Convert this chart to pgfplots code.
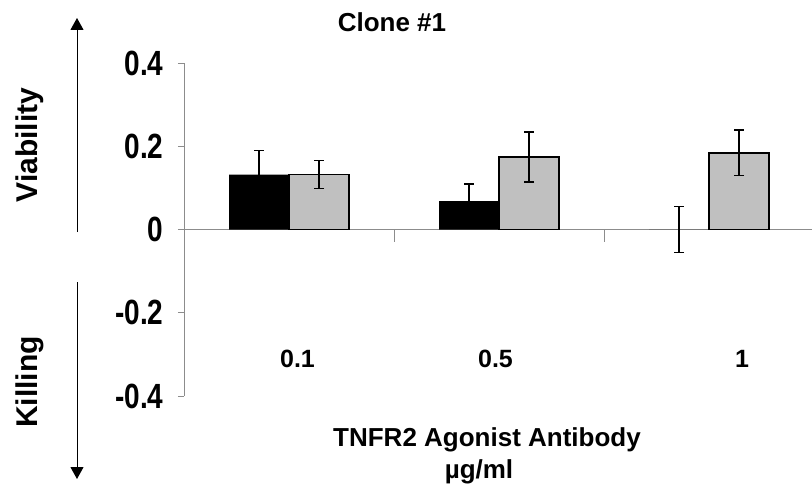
\documentclass[border=0pt]{standalone}
\usepackage{pgfplots}
\pgfplotsset{compat=1.18}
\usepackage{graphicx}
\usepackage{fontspec}
\setmainfont{Liberation Sans}
\usetikzlibrary{arrows.meta}
\definecolor{barGrey}{RGB}{192,192,192}
\definecolor{axGrey}{RGB}{140,140,140}
\begin{document}
\begin{tikzpicture}
\useasboundingbox (0,0) rectangle (812pt,491pt);
\begin{axis}[
  at={(184pt,95pt)}, anchor=south west,
  scale only axis, width=628pt, height=333pt,
  xmin=-0.5, xmax=2.49, ymin=-0.4, ymax=0.4,
  axis x line=middle, axis y line=left,
  axis line style={axGrey, line width=0.8pt, -},
  hide obscured x ticks=false, hide obscured y ticks=false,
  xtick={0.5,1.5}, xticklabels={},
  xtick align=outside,
  xtick style={axGrey, line width=0.8pt, /pgfplots/major tick length=12pt},
  ytick={-0.4,-0.2,0,0.2,0.4},
  ytick align=outside, ytick pos=left,
  ytick style={axGrey, line width=0.8pt, /pgfplots/major tick length=6pt},
  yticklabel={\scalebox{0.8}[1]{\pgfmathprintnumber[assume math mode=true]{\tick}}},
  yticklabel style={font=\fontsize{35}{35}\selectfont\bfseries, anchor=east, inner sep=0pt, xshift=-16pt},
  ybar=0pt, bar width=60pt,
  clip=false,
]
\addplot[fill=black, draw=none,
  error bars/.cd, y dir=both, y explicit,
  error bar style={black, line width=1.3pt},
  error mark options={black, mark size=5pt, line width=1.3pt, rotate=90}]
  coordinates {(0,0.132) +- (0,0.058) (1,0.068) +- (0,0.041) (2,0) +- (0,0.056)};
\addplot[fill=barGrey, draw=black, line width=1.3pt,
  error bars/.cd, y dir=both, y explicit,
  error bar style={black, line width=1.3pt},
  error mark options={black, mark size=5pt, line width=1.3pt, rotate=90}]
  coordinates {(0,0.132) +- (0,0.034) (1,0.174) +- (0,0.060) (2,0.184) +- (0,0.055)};
\end{axis}
% side arrows
\draw[-{Triangle[length=12pt,width=13pt]}, line width=1pt] (77pt,259pt) -- (77pt,473pt);
\draw[-{Triangle[length=12pt,width=13pt]}, line width=1pt] (77pt,209pt) -- (77pt,12pt);
\node[rotate=90, font=\fontsize{30}{30}\selectfont\bfseries] at (30pt,346pt) {Viability};
\node[rotate=90, font=\fontsize{30}{30}\selectfont\bfseries] at (30pt,109pt) {Killing};
% title
\node[anchor=base, font=\fontsize{26}{26}\selectfont\bfseries] at (392pt,459pt) {Clone \#1};
% category labels
\node[anchor=base, font=\fontsize{25}{25}\selectfont\bfseries] at (297.5pt,123.5pt) {0.1};
\node[anchor=base, font=\fontsize{25}{25}\selectfont\bfseries] at (495.5pt,123.5pt) {0.5};
\node[anchor=base, font=\fontsize{25}{25}\selectfont\bfseries] at (742pt,123.5pt) {1};
% x label
\node[anchor=base, font=\fontsize{26}{26}\selectfont\bfseries] at (487pt,45pt) {TNFR2 Agonist Antibody};
\node[anchor=base, font=\fontsize{26}{26}\selectfont\bfseries] at (479pt,13pt) {µg/ml};
\end{tikzpicture}
\end{document}
